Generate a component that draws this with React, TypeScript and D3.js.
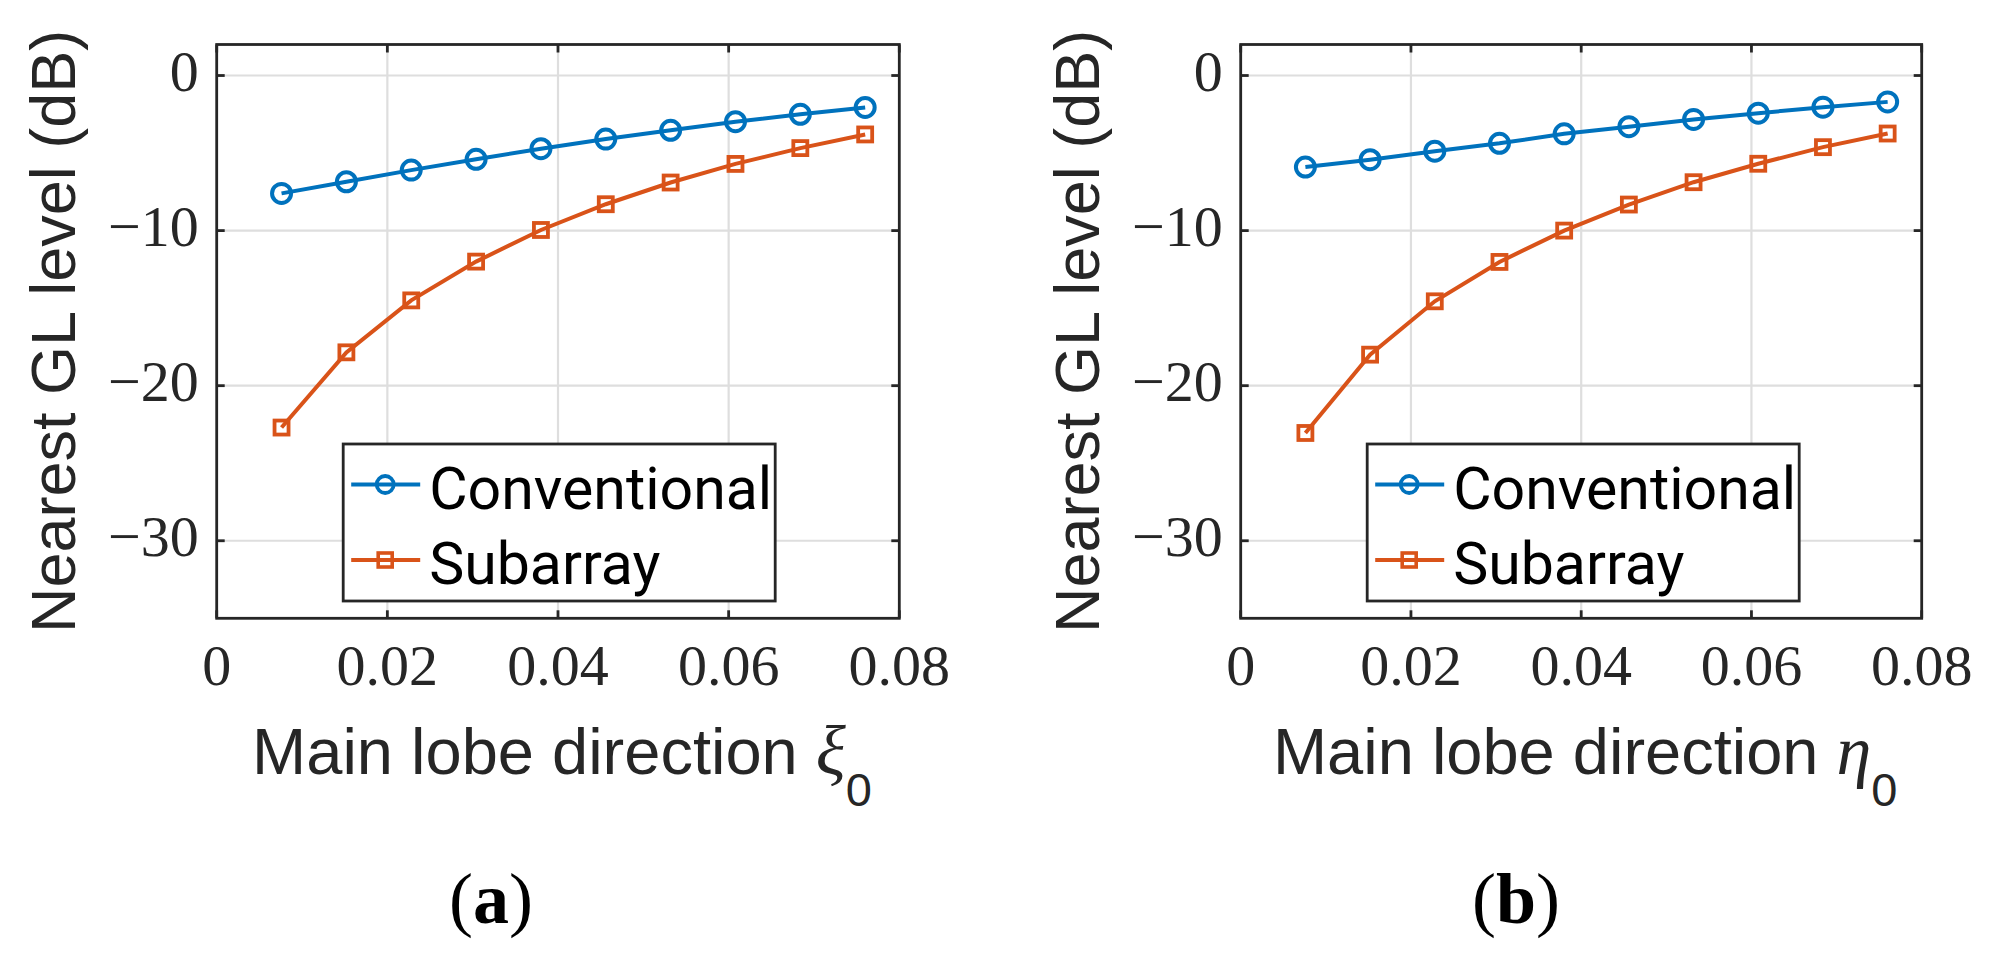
import React, { useEffect, useRef } from "react";
import * as d3 from "d3";

// main lobe direction (same grid for xi and eta)
const directions = [0.0076, 0.0152, 0.0228, 0.0304, 0.038, 0.0456, 0.0532, 0.0608, 0.0684, 0.076];

// nearest grating lobe level, dB
const conventionalXi = [-7.6, -6.85, -6.1, -5.4, -4.72, -4.1, -3.53, -2.98, -2.5, -2.06];
const subarrayXi = [-22.7, -17.85, -14.5, -12.0, -9.96, -8.3, -6.9, -5.7, -4.68, -3.8];
const conventionalEta = [-5.9, -5.43, -4.88, -4.37, -3.76, -3.3, -2.83, -2.43, -2.04, -1.7];
const subarrayEta = [-23.05, -18.0, -14.56, -12.02, -10.0, -8.32, -6.88, -5.69, -4.62, -3.74];

const xTicks = [0, 0.02, 0.04, 0.06, 0.08];
const yTicks = [0, -10, -20, -30];
const seriesNames = ["Conventional", "Subarray"];
const seriesColors = ["#0072BD", "#D95319"];

const sans = "'Liberation Sans', Arial, sans-serif";
const legendFont = "Roboto, 'Liberation Sans', sans-serif";
const serif = "'Liberation Serif', 'DejaVu Serif', serif";
const ink = "#262626";

type PanelSpec = {
  left: number;
  right: number;
  symbol: string;
  tag: string;
  tagX: number;
  conventional: number[];
  subarray: number[];
};

const panels: PanelSpec[] = [
  { left: 216.7, right: 899.3, symbol: "\u03BE", tag: "a", tagX: 491, conventional: conventionalXi, subarray: subarrayXi },
  { left: 1240.7, right: 1921.7, symbol: "\u03B7", tag: "b", tagX: 1516, conventional: conventionalEta, subarray: subarrayEta },
];

const top = 44.5;
const bottom = 618.3;

function fmtTick(v: number) {
  if (v === 0) return "0";
  return v < 0 ? "\u2212" + Math.abs(v) : String(v);
}

function drawPanel(svg: d3.Selection<SVGSVGElement, unknown, null, undefined>, p: PanelSpec) {
  const x = d3.scaleLinear().domain([0, 0.08]).range([p.left, p.right]);
  const y = d3.scaleLinear().domain([-35, 2]).range([bottom, top]);
  const g = svg.append("g");

  // grid
  g.selectAll(".gx").data(xTicks.slice(1, -1)).enter().append("line")
    .attr("x1", d => x(d)).attr("x2", d => x(d))
    .attr("y1", top).attr("y2", bottom)
    .attr("stroke", "#dedede").attr("stroke-width", 2.2);
  g.selectAll(".gy").data(yTicks).enter().append("line")
    .attr("x1", p.left).attr("x2", p.right)
    .attr("y1", d => y(d)).attr("y2", d => y(d))
    .attr("stroke", "#dedede").attr("stroke-width", 2.2);

  const line = d3.line<number>().x((_, i) => x(directions[i])).y(d => y(d));

  // series lines
  [p.conventional, p.subarray].forEach((vals, k) => {
    g.append("path").datum(vals)
      .attr("d", line)
      .attr("fill", "none")
      .attr("stroke", seriesColors[k])
      .attr("stroke-width", 4);
  });

  // markers
  g.selectAll(".mc").data(p.conventional).enter().append("circle")
    .attr("cx", (_, i) => x(directions[i]))
    .attr("cy", d => y(d))
    .attr("r", 9.5)
    .attr("fill", "none")
    .attr("stroke", seriesColors[0])
    .attr("stroke-width", 4);
  g.selectAll(".ms").data(p.subarray).enter().append("rect")
    .attr("x", (_, i) => x(directions[i]) - 7)
    .attr("y", d => y(d) - 7)
    .attr("width", 14).attr("height", 14)
    .attr("fill", "none")
    .attr("stroke", seriesColors[1])
    .attr("stroke-width", 3.8);

  // box
  g.append("rect")
    .attr("x", p.left).attr("y", top)
    .attr("width", p.right - p.left).attr("height", bottom - top)
    .attr("fill", "none").attr("stroke", ink).attr("stroke-width", 2.8);

  // ticks inward on all sides
  xTicks.forEach(t => {
    g.append("line").attr("x1", x(t)).attr("x2", x(t)).attr("y1", bottom).attr("y2", bottom - 8)
      .attr("stroke", ink).attr("stroke-width", 2.8);
    g.append("line").attr("x1", x(t)).attr("x2", x(t)).attr("y1", top).attr("y2", top + 8)
      .attr("stroke", ink).attr("stroke-width", 2.8);
  });
  yTicks.forEach(t => {
    g.append("line").attr("x1", p.left).attr("x2", p.left + 8).attr("y1", y(t)).attr("y2", y(t))
      .attr("stroke", ink).attr("stroke-width", 2.8);
    g.append("line").attr("x1", p.right).attr("x2", p.right - 8).attr("y1", y(t)).attr("y2", y(t))
      .attr("stroke", ink).attr("stroke-width", 2.8);
  });

  // tick labels
  g.selectAll(".tx").data(xTicks).enter().append("text")
    .attr("x", d => x(d)).attr("y", bottom + 66.5)
    .attr("text-anchor", "middle")
    .attr("font-family", serif).attr("font-size", 58).attr("fill", ink)
    .text(d => (d === 0 ? "0" : d.toFixed(2)));
  g.selectAll(".ty").data(yTicks).enter().append("text")
    .attr("x", p.left - 18).attr("y", d => y(d) + 15)
    .attr("text-anchor", "end")
    .attr("font-family", serif).attr("font-size", 58).attr("fill", ink)
    .text(d => fmtTick(d));

  // y label
  const cy = (top + bottom) / 2;
  g.append("text")
    .attr("transform", `translate(${p.left - 142},${cy}) rotate(-90)`)
    .attr("text-anchor", "middle")
    .attr("font-family", sans).attr("font-size", 63).attr("fill", ink)
    .text("Nearest GL level (dB)");

  // x label
  const xl = g.append("text")
    .attr("x", (p.left + p.right) / 2 + 4).attr("y", 774)
    .attr("text-anchor", "middle")
    .attr("font-family", sans).attr("font-size", 65).attr("fill", ink);
  xl.append("tspan").text("Main lobe direction ");
  xl.append("tspan").attr("font-family", serif).attr("font-style", "italic").attr("font-size", 70).text(p.symbol);
  xl.append("tspan").attr("font-size", 47).attr("dy", 32).text("0");

  // panel tag
  const tg = g.append("text")
    .attr("x", p.tagX).attr("y", 923)
    .attr("text-anchor", "middle")
    .attr("font-family", serif).attr("font-size", 72).attr("fill", "#000");
  tg.append("tspan").text("(");
  tg.append("tspan").attr("font-weight", "bold").text(p.tag);
  tg.append("tspan").text(")");

  // legend
  const lx = p.left + 126.5;
  const ly = 444;
  const leg = g.append("g");
  leg.append("rect")
    .attr("x", lx).attr("y", ly).attr("width", 432).attr("height", 157)
    .attr("fill", "#fff").attr("stroke", ink).attr("stroke-width", 2.8);
  seriesNames.forEach((name, k) => {
    const ry = ly + 40.5 + k * 75.5;
    leg.append("line")
      .attr("x1", lx + 8).attr("x2", lx + 77).attr("y1", ry).attr("y2", ry)
      .attr("stroke", seriesColors[k]).attr("stroke-width", 4);
    if (k === 0) {
      leg.append("circle").attr("cx", lx + 42).attr("cy", ry).attr("r", 8.5)
        .attr("fill", "none").attr("stroke", seriesColors[k]).attr("stroke-width", 3.8);
    } else {
      leg.append("rect").attr("x", lx + 42 - 7).attr("y", ry - 7).attr("width", 14).attr("height", 14)
        .attr("fill", "none").attr("stroke", seriesColors[k]).attr("stroke-width", 3.6);
    }
    leg.append("text")
      .attr("x", lx + 86).attr("y", ry + 24)
      .attr("font-family", legendFont).attr("font-size", 59).attr("fill", "#000")
      .text(name);
  });
}

export default function App() {
  const ref = useRef<SVGSVGElement | null>(null);

  useEffect(() => {
    if (ref.current == null) return;
    const svg = d3.select(ref.current);
    svg.selectAll("*").remove();
    panels.forEach(p => drawPanel(svg, p));
  }, []);

  return (
    <svg
      ref={ref}
      width={1995}
      height={964}
      style={{ position: "absolute", left: 0, top: 0, background: "#fff" }}
    />
  );
}
